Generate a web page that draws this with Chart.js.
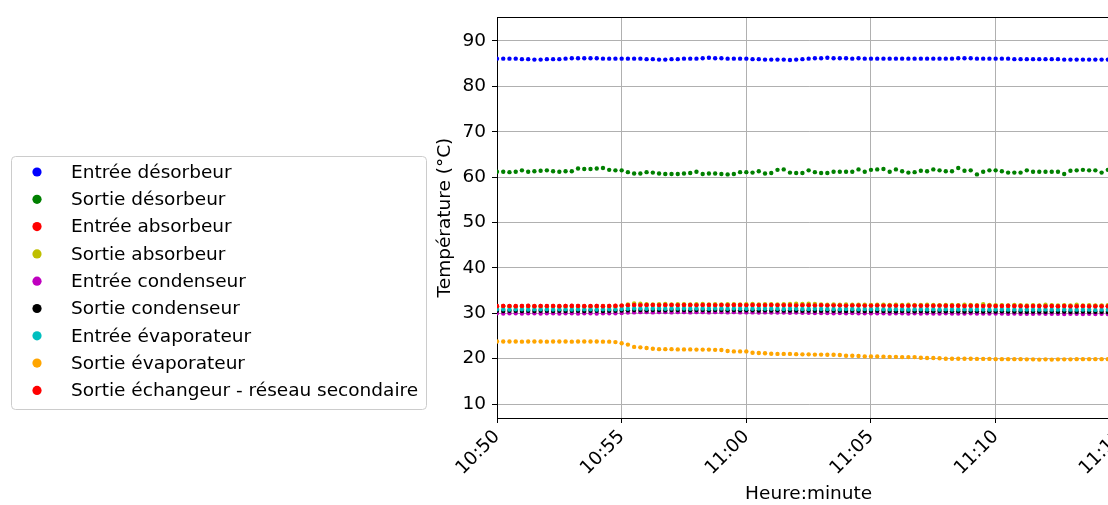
<!DOCTYPE html>
<html>
<head>
<meta charset="utf-8">
<script src="https://cdn.jsdelivr.net/npm/chart.js@4.4.1/dist/chart.umd.min.js"></script>
<style>
  html, body { margin: 0; padding: 0; background: #fff; overflow: hidden; }
  #wrap { width: 1108px; height: 505px; overflow: hidden; position: relative; }
  #chart { position: absolute; left: 0; top: 0; }
</style>
</head>
<body>
<div id="wrap"><canvas id="chart" width="1139" height="505"></canvas></div>
<script>
// one sample every 15 s starting at 10:50
const stepMinutes = 0.25;
const xTickMinutes = [0, 5, 10, 15, 20, 25];
const xTickLabels = ['10:50', '10:55', '11:00', '11:05', '11:10', '11:15'];
const yTicks = [10, 20, 30, 40, 50, 60, 70, 80, 90];

const seriesNames = [
  'Entrée désorbeur',
  'Sortie désorbeur',
  'Entrée absorbeur',
  'Sortie absorbeur',
  'Entrée condenseur',
  'Sortie condenseur',
  'Entrée évaporateur',
  'Sortie évaporateur',
  'Sortie échangeur - réseau secondaire',
];
const seriesColors = ['#0000ff', '#008000', '#ff0000', '#bfbf00', '#bf00bf', '#000000', '#00bfbf', '#ffa500', '#ff0000'];

const entreeDesorbeur = [
  86.1, 86.1, 86.1, 86.1, 86.0, 86.0, 85.9, 85.9, 86.0, 86.0,
  86.0, 86.1, 86.2, 86.2, 86.2, 86.2, 86.2, 86.1, 86.1, 86.1,
  86.1, 86.1, 86.1, 86.1, 86.0, 86.0, 85.9, 85.9, 86.0, 86.0,
  86.1, 86.1, 86.1, 86.2, 86.3, 86.2, 86.2, 86.1, 86.1, 86.1,
  86.1, 86.0, 86.0, 85.9, 85.9, 85.9, 85.9, 85.8, 85.9, 86.0,
  86.1, 86.2, 86.2, 86.3, 86.2, 86.2, 86.2, 86.1, 86.2, 86.1,
  86.1, 86.1, 86.1, 86.1, 86.1, 86.1, 86.1, 86.1, 86.1, 86.1,
  86.1, 86.1, 86.1, 86.1, 86.2, 86.2, 86.2, 86.1, 86.1, 86.1,
  86.1, 86.1, 86.1, 86.0, 86.0, 86.0, 86.0, 86.0, 86.0, 86.0,
  86.0, 85.9, 85.9, 85.9, 85.9, 85.9, 85.9, 85.9, 85.9, 85.9, 85.9,
];
const sortieDesorbeur = [
  61.2, 61.2, 61.1, 61.2, 61.5, 61.2, 61.3, 61.4, 61.5, 61.3,
  61.2, 61.3, 61.3, 61.9, 61.8, 61.8, 61.9, 62.0, 61.6, 61.5,
  61.5, 61.1, 60.8, 60.8, 61.1, 61.0, 60.8, 60.7, 60.7, 60.7,
  60.8, 60.9, 61.2, 60.7, 60.8, 60.8, 60.7, 60.6, 60.7, 61.1,
  61.1, 61.0, 61.3, 60.8, 60.9, 61.6, 61.7, 61.0, 60.9, 60.9,
  61.5, 61.1, 60.9, 60.9, 61.2, 61.2, 61.2, 61.2, 61.7, 61.2,
  61.6, 61.7, 61.8, 61.2, 61.7, 61.3, 61.0, 61.1, 61.4, 61.3,
  61.7, 61.5, 61.3, 61.3, 62.0, 61.4, 61.5, 60.6, 61.2, 61.5,
  61.5, 61.3, 61.0, 61.0, 61.0, 61.5, 61.2, 61.2, 61.2, 61.2,
  61.2, 60.7, 61.4, 61.5, 61.6, 61.5, 61.5, 61.0, 61.6, 61.4, 61.3,
];
const entreeAbsorbeur = [
  31.6, 31.6, 31.55, 31.6, 31.6, 31.65, 31.6, 31.6, 31.55, 31.6,
  31.6, 31.6, 31.65, 31.6, 31.6, 31.55, 31.6, 31.6, 31.6, 31.65,
  31.65, 31.75, 31.8, 31.85, 31.8, 31.8, 31.85, 31.8, 31.8, 31.8,
  31.85, 31.8, 31.8, 31.8, 31.85, 31.8, 31.8, 31.85, 31.8, 31.8,
  31.8, 31.8, 31.85, 31.8, 31.8, 31.8, 31.85, 31.8, 31.8, 31.75,
  31.75, 31.8, 31.75, 31.75, 31.8, 31.75, 31.75, 31.7, 31.75, 31.75,
  31.7, 31.7, 31.75, 31.7, 31.7, 31.7, 31.65, 31.7, 31.7, 31.7,
  31.65, 31.7, 31.65, 31.65, 31.7, 31.65, 31.65, 31.6, 31.65, 31.65,
  31.6, 31.65, 31.6, 31.6, 31.6, 31.55, 31.6, 31.6, 31.6, 31.6,
  31.55, 31.6, 31.6, 31.6, 31.55, 31.6, 31.6, 31.6, 31.55, 31.6, 31.6,
];
const sortieAbsorbeur = [
  31.45, 31.5, 31.45, 31.45, 31.5, 31.45, 31.5, 31.45, 31.45, 31.5,
  31.45, 31.5, 31.45, 31.45, 31.5, 31.45, 31.45, 31.5, 31.45, 31.5,
  31.7, 31.95, 32.15, 32.1, 32.0, 31.95, 32.0, 32.05, 31.95, 32.0,
  32.0, 31.95, 32.0, 32.05, 31.95, 32.0, 31.95, 32.0, 32.0, 31.95,
  32.0, 32.05, 31.95, 32.0, 32.0, 31.95, 32.0, 32.05, 32.1, 32.05,
  32.1, 32.05, 31.95, 31.9, 31.95, 31.9, 31.95, 31.9, 31.9, 31.9,
  31.85, 31.9, 31.9, 31.85, 31.9, 31.85, 31.9, 31.85, 31.85, 31.9,
  31.85, 31.8, 31.85, 31.85, 31.8, 31.9, 31.85, 31.8, 32.0, 31.85,
  31.8, 31.8, 31.75, 31.85, 31.8, 31.75, 31.8, 31.75, 31.9, 31.8,
  31.75, 31.8, 31.75, 31.9, 31.75, 31.8, 31.75, 31.75, 31.8, 31.75, 31.75,
];
const entreeCondenseur = [
  30.0, 29.95, 30.0, 30.0, 29.95, 30.0, 30.0, 29.95, 30.0, 30.0,
  29.95, 30.0, 30.0, 29.95, 30.0, 30.0, 29.95, 30.0, 30.0, 30.0,
  30.05, 30.15, 30.2, 30.25, 30.25, 30.2, 30.25, 30.25, 30.2, 30.25,
  30.25, 30.2, 30.25, 30.25, 30.2, 30.25, 30.25, 30.2, 30.25, 30.2,
  30.2, 30.2, 30.15, 30.2, 30.15, 30.15, 30.15, 30.1, 30.15, 30.1,
  30.1, 30.05, 30.05, 30.05, 30.0, 30.05, 30.0, 30.05, 30.0, 30.0,
  30.0, 30.0, 30.0, 29.95, 30.0, 30.0, 29.95, 30.0, 29.95, 30.0,
  29.95, 29.95, 30.0, 29.95, 29.95, 29.95, 30.0, 29.95, 29.95, 29.95,
  29.95, 29.95, 29.9, 29.95, 29.9, 29.9, 29.9, 29.95, 29.9, 29.9,
  29.9, 29.85, 29.9, 29.9, 29.85, 29.9, 29.85, 29.9, 29.85, 29.85, 29.85,
];
const sortieCondenseur = [
  30.55, 30.5, 30.55, 30.55, 30.5, 30.55, 30.5, 30.55, 30.55, 30.5,
  30.55, 30.5, 30.55, 30.55, 30.5, 30.55, 30.55, 30.5, 30.55, 30.55,
  30.6, 30.65, 30.7, 30.7, 30.65, 30.7, 30.7, 30.65, 30.7, 30.7,
  30.7, 30.65, 30.7, 30.7, 30.65, 30.7, 30.7, 30.65, 30.7, 30.65,
  30.65, 30.65, 30.6, 30.65, 30.6, 30.65, 30.6, 30.6, 30.6, 30.55,
  30.6, 30.55, 30.55, 30.6, 30.55, 30.55, 30.5, 30.55, 30.55, 30.5,
  30.5, 30.55, 30.5, 30.5, 30.45, 30.5, 30.5, 30.45, 30.5, 30.45,
  30.45, 30.5, 30.45, 30.45, 30.45, 30.4, 30.45, 30.45, 30.4, 30.45,
  30.4, 30.45, 30.4, 30.4, 30.4, 30.35, 30.4, 30.4, 30.35, 30.4,
  30.35, 30.4, 30.35, 30.35, 30.4, 30.35, 30.35, 30.35, 30.3, 30.35, 30.35,
];
const entreeEvaporateur = [
  30.9, 30.9, 30.85, 30.9, 30.9, 30.85, 30.9, 30.9, 30.9, 30.85,
  30.9, 30.9, 30.85, 30.9, 30.9, 30.9, 30.85, 30.9, 30.9, 30.9,
  30.95, 31.0, 31.05, 31.05, 31.0, 31.05, 31.05, 31.0, 31.05, 31.05,
  31.05, 31.0, 31.05, 31.05, 31.0, 31.05, 31.05, 31.0, 31.05, 31.0,
  31.0, 31.0, 31.05, 31.0, 31.0, 31.0, 30.95, 31.0, 31.0, 30.95,
  30.95, 31.0, 30.95, 30.95, 30.95, 30.9, 30.95, 30.95, 30.9, 30.95,
  30.9, 30.95, 30.9, 30.9, 30.9, 30.9, 30.85, 30.9, 30.9, 30.85,
  30.9, 30.85, 30.9, 30.85, 30.85, 30.9, 30.85, 30.85, 30.85, 30.8,
  30.85, 30.85, 30.8, 30.85, 30.8, 30.85, 30.8, 30.8, 30.85, 30.8,
  30.8, 30.85, 30.8, 30.8, 30.8, 30.8, 30.75, 30.8, 30.8, 30.8, 30.8,
];
const sortieEvaporateur = [
  23.8, 23.8, 23.8, 23.8, 23.75, 23.8, 23.8, 23.8, 23.75, 23.8,
  23.8, 23.8, 23.75, 23.8, 23.8, 23.8, 23.8, 23.75, 23.75, 23.65,
  23.4, 23.1, 22.6, 22.5, 22.35, 22.2, 22.1, 22.1, 22.1, 22.05,
  22.05, 22.05, 22.0, 22.0, 22.0, 21.95, 21.9, 21.7, 21.6, 21.6,
  21.6, 21.3, 21.25, 21.2, 21.1, 21.05, 21.05, 21.05, 21.0, 20.95,
  20.95, 20.9, 20.9, 20.85, 20.85, 20.8, 20.65, 20.65, 20.6, 20.5,
  20.5, 20.5, 20.45, 20.4, 20.4, 20.35, 20.35, 20.35, 20.2, 20.15,
  20.15, 20.1, 20.0, 20.0, 20.0, 20.0, 20.0, 19.95, 19.95, 19.95,
  19.9, 19.9, 19.9, 19.9, 19.9, 19.85, 19.85, 19.8, 19.85, 19.8,
  19.85, 19.85, 19.85, 19.9, 19.9, 19.9, 19.9, 19.9, 19.9, 19.9, 19.9,
];
const sortieEchangeur = [
  31.55, 31.6, 31.6, 31.55, 31.6, 31.6, 31.55, 31.6, 31.6, 31.6,
  31.55, 31.6, 31.6, 31.6, 31.55, 31.6, 31.6, 31.55, 31.6, 31.6,
  31.7, 31.8, 31.85, 31.8, 31.85, 31.85, 31.8, 31.85, 31.85, 31.8,
  31.85, 31.85, 31.8, 31.85, 31.85, 31.8, 31.85, 31.8, 31.85, 31.85,
  31.8, 31.85, 31.8, 31.8, 31.85, 31.8, 31.8, 31.8, 31.75, 31.8,
  31.8, 31.75, 31.8, 31.75, 31.75, 31.75, 31.7, 31.75, 31.75, 31.7,
  31.7, 31.75, 31.7, 31.7, 31.7, 31.65, 31.7, 31.7, 31.65, 31.7,
  31.65, 31.7, 31.65, 31.65, 31.65, 31.6, 31.65, 31.65, 31.6, 31.65,
  31.6, 31.6, 31.65, 31.6, 31.6, 31.55, 31.6, 31.6, 31.55, 31.6,
  31.55, 31.6, 31.55, 31.55, 31.6, 31.55, 31.55, 31.55, 31.55, 31.6, 31.55,
];

const allSeries = [
  entreeDesorbeur, sortieDesorbeur, entreeAbsorbeur, sortieAbsorbeur,
  entreeCondenseur, sortieCondenseur, entreeEvaporateur, sortieEvaporateur, sortieEchangeur,
];

const FONT = 'DejaVu Sans';
Chart.defaults.font.family = FONT;
Chart.defaults.font.size = 18.5;
Chart.defaults.color = '#000';

// matplotlib style legend box sitting left of the axes
const boxLegend = {
  id: 'boxLegend',
  afterDraw(chart, args, opts) {
    const { ctx } = chart;
    ctx.save();
    ctx.beginPath();
    ctx.roundRect(opts.x + 0.5, opts.y + 0.5, opts.w, opts.h, 4);
    ctx.fillStyle = 'rgba(255,255,255,0.8)';
    ctx.fill();
    ctx.strokeStyle = '#cccccc';
    ctx.lineWidth = 1;
    ctx.stroke();
    ctx.font = `18.5px "${FONT}"`;
    ctx.textBaseline = 'middle';
    chart.data.datasets.forEach((ds, i) => {
      const cy = opts.y + opts.firstRow + i * opts.rowH;
      ctx.beginPath();
      ctx.arc(opts.markerX, cy, 4.6, 0, Math.PI * 2);
      ctx.fillStyle = ds.backgroundColor;
      ctx.fill();
      ctx.fillStyle = '#000';
      ctx.fillText(ds.label, opts.textX, cy + 1);
    });
    ctx.restore();
  }
};

// top spine (and right one, off screen)
const frame = {
  id: 'frame',
  afterDatasetsDraw(chart) {
    const { ctx, chartArea: a } = chart;
    ctx.save();
    ctx.strokeStyle = '#000';
    ctx.lineWidth = 1;
    ctx.beginPath();
    ctx.moveTo(Math.round(a.left) + 0.5, Math.round(a.top) + 0.5);
    ctx.lineTo(Math.round(a.right) + 0.5, Math.round(a.top) + 0.5);
    ctx.lineTo(Math.round(a.right) + 0.5, Math.round(a.bottom) + 0.5);
    ctx.stroke();
    ctx.restore();
  }
};

new Chart(document.getElementById('chart'), {
  type: 'scatter',
  data: {
    datasets: allSeries.map((vals, i) => ({
      label: seriesNames[i],
      data: vals.map((v, k) => ({ x: k * stepMinutes, y: v })),
      backgroundColor: seriesColors[i],
      borderColor: seriesColors[i],
      pointRadius: 2.2,
      pointBorderWidth: 0,
      pointHoverRadius: 2.2,
      order: allSeries.length - i,
    })),
  },
  options: {
    responsive: false,
    animation: false,
    events: [],
    layout: { padding: { left: 433, top: 15, right: 0, bottom: 0 } },
    plugins: {
      legend: { display: false },
      tooltip: { enabled: false },
      boxLegend: { x: 11, y: 156, w: 415, h: 253, firstRow: 16, rowH: 27.3, markerX: 37, textX: 71 },
    },
    scales: {
      x: {
        type: 'linear',
        min: 0,
        max: 25,
        afterBuildTicks: s => { s.ticks = xTickMinutes.map(v => ({ value: v })); },
        afterFit: s => { s.height = 87; },
        ticks: {
          minRotation: 45,
          maxRotation: 45,
          padding: 3,
          autoSkip: false,
          callback: v => xTickLabels[xTickMinutes.indexOf(v)],
        },
        grid: { color: '#b0b0b0', lineWidth: 1, tickColor: '#000', tickLength: 5 },
        border: { color: '#000', width: 1 },
        title: { display: true, text: 'Heure:minute', padding: { top: 0, bottom: 0 } },
      },
      y: {
        min: 6.93,
        max: 95.26,
        afterBuildTicks: s => { s.ticks = yTicks.map(v => ({ value: v })); },
        afterFit: s => { s.width = 64; },
        ticks: { padding: 6 },
        grid: { color: '#b0b0b0', lineWidth: 1, tickColor: '#000', tickLength: 5 },
        border: { color: '#000', width: 1 },
        title: { display: true, text: 'Température (°C)', padding: { top: 1, bottom: 0 } },
      },
    },
  },
  plugins: [boxLegend, frame],
});
</script>
</body>
</html>
